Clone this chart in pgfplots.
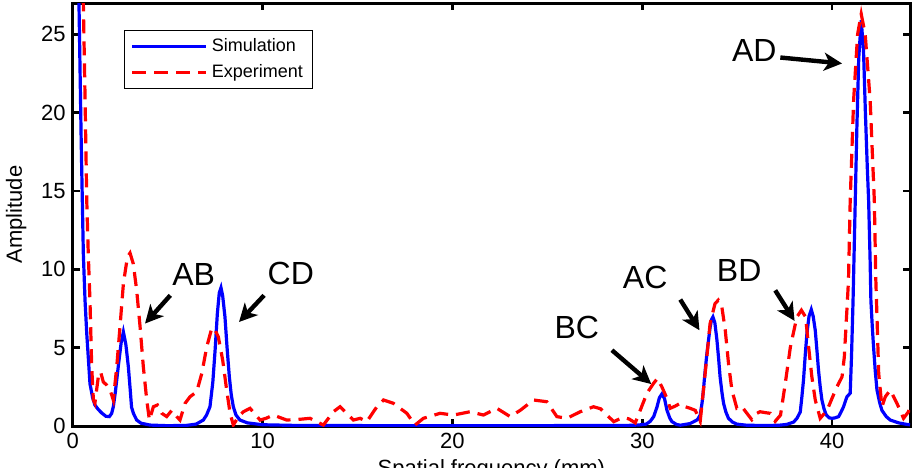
\documentclass[border=0pt]{standalone}
\usepackage{fontspec}
\setmainfont{Liberation Sans}
\usepackage{pgfplots}
\pgfplotsset{compat=1.18}
\usetikzlibrary{arrows.meta}
\begin{document}
\begin{tikzpicture}
\path[use as bounding box] (-36.35pt,-20.5pt) rectangle (421.15pt,213pt);
\clip (-36.35pt,-20.5pt) rectangle (421.15pt,213pt);
\begin{axis}[
  at={(0pt,0pt)}, anchor=south west,
  scale only axis, width=418.65pt, height=211.5pt,
  xmin=0, xmax=44.1, ymin=0, ymax=27,
  xtick={0,10,20,30,40}, ytick={0,5,10,15,20,25},
  tick align=inside, major tick length=3.5pt,
  every tick/.style={black, line width=1.2pt},
  axis line style={black, line width=1.5pt},
  ticklabel style={font=\fontsize{11}{13}\selectfont},
  /pgf/number format/assume math mode=true,
  xlabel={Spatial frequency (mm)}, ylabel={Amplitude},
  label style={font=\fontsize{11}{13}\selectfont},
  xlabel style={at={(rel axis cs:0.5,-0.062)}, anchor=north},
  ylabel style={at={(rel axis cs:-0.0676,0.5)}, anchor=center},
  legend style={at={(rel axis cs:0.0613,0.936)}, anchor=north west, draw=black, line width=0.6pt, font=\fontsize{9}{11}\selectfont, inner xsep=3pt, inner ysep=2pt, row sep=1pt},
  legend cell align=left,
  legend image code/.code={\draw[#1] (0pt,0pt) -- (37pt,0pt);},
]
\addplot[blue, line width=1.6pt] coordinates {
(0.25,35) (0.33,27) (0.45,18) (0.56,11) (0.65,8) (0.74,5.9) (0.91,2.7) (1.05,1.8) (1.17,1.34) (1.35,1.05) (1.53,0.83) (1.75,0.62) (1.93,0.6) (2.05,0.8) (2.14,1.23) (2.25,2.2) (2.4,3.8) (2.55,5.3) (2.67,6.0) (2.8,5.2) (2.93,3.8) (3.03,2.3) (3.1,1.2) (3.2,0.8) (3.37,0.38) (3.6,0.18) (4.07,0.06) (5,0.02) (6,0.04) (6.5,0.12) (6.88,0.38) (7.05,0.7) (7.23,1.23) (7.38,2.8) (7.5,4.84) (7.62,7.2) (7.72,8.5) (7.81,8.83) (7.9,8.3) (8.02,6.96) (8.13,5.0) (8.25,3.14) (8.35,2.0) (8.46,1.23) (8.6,0.7) (8.81,0.38) (9.2,0.2) (10,0.08) (12,0.03) (20,0.02) (29,0.03) (29.8,0.06) (30.2,0.12) (30.42,0.3) (30.6,0.6) (30.77,1.2) (30.9,1.8) (31.03,2.04) (31.17,1.75) (31.3,1.0) (31.45,0.5) (31.56,0.28) (31.8,0.1) (32.0,0.05) (32.5,0.15) (32.7,0.27) (32.9,0.4) (33.05,0.7) (33.15,1.5) (33.22,2.3) (33.3,3.4) (33.4,4.6) (33.5,5.6) (33.57,6.3) (33.65,6.8) (33.72,6.96) (33.82,6.6) (33.93,5.5) (34.02,4.3) (34.1,3.1) (34.2,2.1) (34.28,1.45) (34.4,0.9) (34.54,0.49) (34.75,0.25) (34.98,0.12) (35.5,0.05) (36.5,0.03) (37.2,0.05) (37.6,0.1) (37.97,0.25) (38.15,0.5) (38.32,0.9) (38.4,1.8) (38.49,2.93) (38.58,4.5) (38.67,5.9) (38.78,7.0) (38.9,7.43) (39.0,7.0) (39.11,6.1) (39.2,4.8) (39.28,3.57) (39.37,2.5) (39.46,1.66) (39.57,1.1) (39.69,0.7) (39.85,0.52) (39.99,0.49) (40.15,0.52) (40.34,0.6) (40.47,0.9) (40.6,1.23) (40.7,1.6) (40.78,1.87) (40.88,2.0) (40.95,2.1) (41.02,4.5) (41.1,8.0) (41.2,13.5) (41.3,19) (41.4,23.5) (41.53,25.9) (41.65,24) (41.75,20) (41.85,16.5) (41.92,14.4) (42.0,10.5) (42.04,8.0) (42.12,6.2) (42.18,5.05) (42.27,3.5) (42.36,2.3) (42.5,1.5) (42.62,1.0) (42.85,0.6) (43.06,0.38) (43.5,0.2) (43.94,0.1) (44.1,0.08)
};
\addplot[red, line width=1.6pt, dash pattern=on 7pt off 4pt] coordinates {
(0.45,40) (0.56,27) (0.65,21) (0.74,14.4) (0.82,11) (0.91,8.0) (1.0,3.8) (1.09,1.66) (1.17,1.46) (1.28,2.5) (1.35,3.14) (1.47,3.46) (1.61,2.82) (1.79,2.61) (1.97,2.29) (2.14,1.66) (2.32,3.78) (2.49,6.32) (2.67,9.09) (2.88,10.78) (3.02,11.04) (3.19,10.36) (3.37,8.66) (3.55,6.32) (3.72,3.78) (3.9,1.66) (4.04,0.38) (4.25,1.23) (4.46,1.34) (4.69,0.81) (4.95,0.6) (5.22,1.0) (5.48,0.6) (5.65,0.38) (5.92,1.45) (6.18,1.87) (6.53,2.18) (6.8,3.36) (7.06,5.05) (7.32,6.22) (7.45,6.25) (7.67,5.69) (7.9,4.2) (8.11,2.29) (8.29,0.81) (8.46,0.06) (8.73,0.6) (8.99,0.91) (9.34,1.13) (9.87,0.38) (10.2,0.5) (10.57,0.7) (11.27,0.38) (11.98,0.43) (12.5,0.49) (13.2,0.06) (13.73,0.91) (14.08,1.23) (14.78,0.38) (15.14,0.49) (15.49,0.28) (16.02,1.23) (16.37,1.66) (16.89,1.45) (17.6,0.81) (18.03,0.06) (18.47,0.49) (19.35,0.81) (20.05,0.7) (20.93,0.91) (21.63,0.7) (22.34,1.13) (23.04,0.6) (23.57,1.0) (24.27,1.66) (24.97,1.55) (25.5,0.6) (26.03,0.49) (26.73,0.91) (27.43,1.23) (27.8,1.1) (28.13,0.7) (28.5,0.28) (28.8,0.45) (29.0,0.55) (29.3,0.45) (29.63,0.2) (29.89,1.0) (30.24,2.08) (30.59,2.72) (30.8,3.04) (31.03,2.5) (31.3,1.76) (31.47,1.13) (31.73,1.27) (32.0,1.45) (32.26,1.23) (32.52,1.13) (32.79,1.0) (33.05,0.3) (33.22,2.29) (33.4,4.41) (33.57,6.54) (33.83,7.81) (34.0,8.03) (34.19,7.6) (34.37,6.11) (34.54,3.99) (34.72,2.29) (34.98,1.13) (35.25,1.23) (35.51,0.81) (35.77,0.4) (36.04,0.81) (36.2,0.91) (36.5,0.85) (36.74,0.81) (37.0,0.3) (37.28,0.7) (37.53,2.72) (37.8,5.05) (38.14,6.96) (38.38,7.39) (38.6,6.96) (38.76,5.05) (38.93,3.14) (39.11,1.66) (39.37,0.49) (39.73,1.0) (39.99,1.76) (40.25,2.5) (40.52,3.14) (40.64,4.41) (40.78,7.5) (40.86,9.3) (40.95,14.4) (41.13,20.8) (41.34,25.0) (41.53,26.3) (41.74,25.0) (42.0,20.8) (42.22,14.4) (42.3,9.3) (42.36,7.0) (42.45,3.36) (42.62,1.23) (42.8,1.87) (43.06,2.29) (43.41,1.45) (43.76,0.49) (44.02,0.91) (44.1,1.4)
};
\legend{Simulation, Experiment}
\begin{scope}[every node/.style={font=\fontsize{16}{19}\selectfont}]
\node at (axis cs:6.37,9.68) {AB};
\node at (axis cs:11.49,9.73) {CD};
\node at (axis cs:26.55,6.29) {BC};
\node at (axis cs:30.15,9.47) {AC};
\node at (axis cs:35.1,9.94) {BD};
\node at (axis cs:35.9,23.95) {AD};
\end{scope}
\begin{scope}[line width=2.2pt, -{Stealth[length=9pt,width=9pt,inset=2.5pt]}]
\draw (axis cs:5.14,8.34) -- (axis cs:3.81,6.54);
\draw (axis cs:10.08,8.34) -- (axis cs:8.76,6.64);
\draw (axis cs:28.4,4.84) -- (axis cs:30.47,2.68);
\draw (axis cs:32.0,8.07) -- (axis cs:33.01,6.11);
\draw (axis cs:37.0,8.66) -- (axis cs:38.02,6.71);
\draw (axis cs:37.27,23.52) -- (axis cs:40.52,23.14);
\end{scope}
\end{axis}
\end{tikzpicture}
\end{document}
